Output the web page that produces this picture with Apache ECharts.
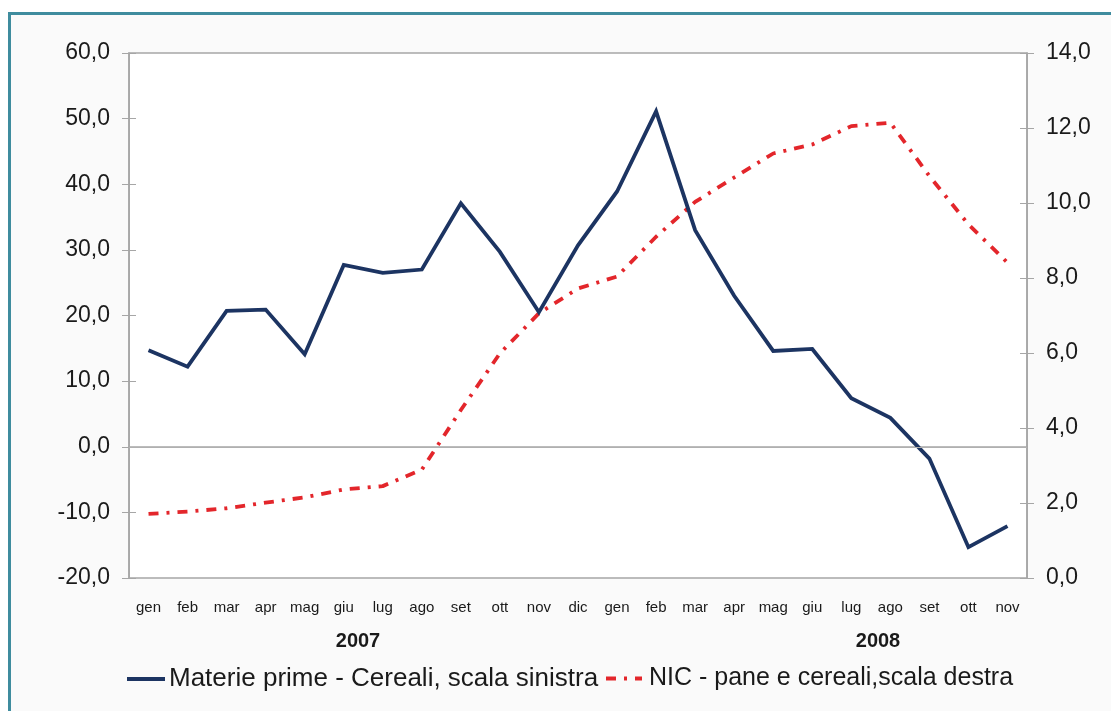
<!DOCTYPE html>
<html>
<head>
<meta charset="utf-8">
<script src="https://cdn.jsdelivr.net/npm/echarts@6/dist/echarts.min.js"></script>
<style>
  html, body { margin: 0; padding: 0; background: #ffffff; }
  #frame { position: absolute; left: 8px; top: 12px; width: 1120px; height: 720px;
           border: 3px solid #3f8c9e; box-sizing: border-box; background: #fafafa; }
  #chart { position: absolute; left: 0; top: 0; width: 1111px; height: 711px; }
</style>
</head>
<body>
<div id="frame"></div>
<div id="chart"></div>
<script>
// Months from January 2007 to November 2008
const months = ['gen','feb','mar','apr','mag','giu','lug','ago','set','ott','nov','dic',
                'gen','feb','mar','apr','mag','giu','lug','ago','set','ott','nov'];

// Raw materials - cereals (% change, left scale)
const cerealiMateriePrime = [14.7, 12.2, 20.7, 20.9, 14.1, 27.7, 26.5, 27.0, 37.1, 29.7, 20.5, 30.7,
                             38.9, 51.1, 33.0, 23.0, 14.6, 14.9, 7.4, 4.4, -1.8, -15.3, -12.1];

// NIC consumer prices - bread and cereals (% change, right scale)
const nicPaneCereali = [1.71, 1.77, 1.86, 2.01, 2.15, 2.36, 2.45, 2.89, 4.48, 5.99, 7.06, 7.72,
                        8.04, 9.10, 10.03, 10.68, 11.32, 11.56, 12.05, 12.14, 10.72, 9.43, 8.41];

const seriesNames = ['Materie prime - Cereali, scala sinistra', 'NIC - pane e cereali,scala destra'];
const yearLabels = ['2007', '2008'];

const leftAxis = { min: -20, max: 60, interval: 10 };
const rightAxis = { min: 0, max: 14, interval: 2 };

const fmt = v => v.toFixed(1).replace('.', ',');
const FONT = '"Liberation Sans", Arial, sans-serif';
const AXIS_GREY = '#a6a6a6';
const TEXT = '#1a1a1a';

const chart = echarts.init(document.getElementById('chart'), null, { renderer: 'canvas' });

// Each side gets two axes sharing one scale: one carries the line, labels and
// outward ticks, the other only inward ticks, so the ticks cross the axis line.
function valueAxis(cfg, position, withLabels, tickInside) {
  return {
    type: 'value', position, min: cfg.min, max: cfg.max, interval: cfg.interval,
    axisLine: { show: withLabels, lineStyle: { color: AXIS_GREY, width: 1.5 } },
    axisTick: { show: true, inside: tickInside, length: 7, lineStyle: { color: AXIS_GREY, width: 1 } },
    axisLabel: { show: withLabels, formatter: fmt, color: TEXT, fontFamily: FONT, fontSize: 23, margin: 19 },
    splitLine: { show: false }
  };
}

// One legend block per series, laid out side by side along the bottom
function legendItem(name, left, iconWidth, fontSize, textPad) {
  return {
    data: [name], left, top: 666, padding: 0, itemWidth: iconWidth, itemHeight: 14,
    itemStyle: { opacity: 0 },
    lineStyle: { width: 4 },
    textStyle: { fontFamily: FONT, fontSize, color: TEXT, padding: [0, 0, 0, textPad] }
  };
}

chart.setOption({
  backgroundColor: 'transparent',
  animation: false,
  grid: { left: 129, right: 84, top: 53, bottom: 133, show: true,
          backgroundColor: '#ffffff', borderColor: AXIS_GREY, borderWidth: 1.5 },
  legend: [
    legendItem(seriesNames[0], 125, 38, 26, -1),
    legendItem(seriesNames[1], 604, 36, 25, 2)
  ],
  xAxis: {
    type: 'category', data: months, boundaryGap: true,
    axisLine: { lineStyle: { color: AXIS_GREY, width: 1.5 } },
    axisTick: { show: false },
    axisLabel: { color: TEXT, fontFamily: FONT, fontSize: 15, margin: 22, interval: 0 },
    splitLine: { show: true, interval: (i) => i === 12, lineStyle: { color: '#b0b0b0', width: 1 } }
  },
  yAxis: [
    valueAxis(leftAxis, 'left', true, false),
    valueAxis(rightAxis, 'right', true, false),
    valueAxis(leftAxis, 'left', false, true),
    valueAxis(rightAxis, 'right', false, true)
  ],
  graphic: [
    { type: 'text', x: 358, y: 641, style: { text: yearLabels[0], font: 'bold 20px ' + FONT, fill: TEXT,
      align: 'center', verticalAlign: 'middle' } },
    { type: 'text', x: 878, y: 641, style: { text: yearLabels[1], font: 'bold 20px ' + FONT, fill: TEXT,
      align: 'center', verticalAlign: 'middle' } }
  ],
  series: [
    {
      name: seriesNames[0], type: 'line', yAxisIndex: 0, data: cerealiMateriePrime,
      symbol: 'none', z: 3,
      lineStyle: { color: '#1c3462', width: 3.8, join: 'miter' },
      itemStyle: { color: '#1c3462' },
      markLine: {
        silent: true, symbol: 'none', label: { show: false },
        lineStyle: { color: '#b0b0b0', width: 1, type: 'solid' },
        data: [{ yAxis: 0 }]
      }
    },
    {
      name: seriesNames[1], type: 'line', yAxisIndex: 1, data: nicPaneCereali,
      symbol: 'none', z: 2,
      lineStyle: { color: '#e3262b', width: 3.8, type: [10, 8, 3, 8] },
      itemStyle: { color: '#e3262b' }
    }
  ]
});
</script>
</body>
</html>
